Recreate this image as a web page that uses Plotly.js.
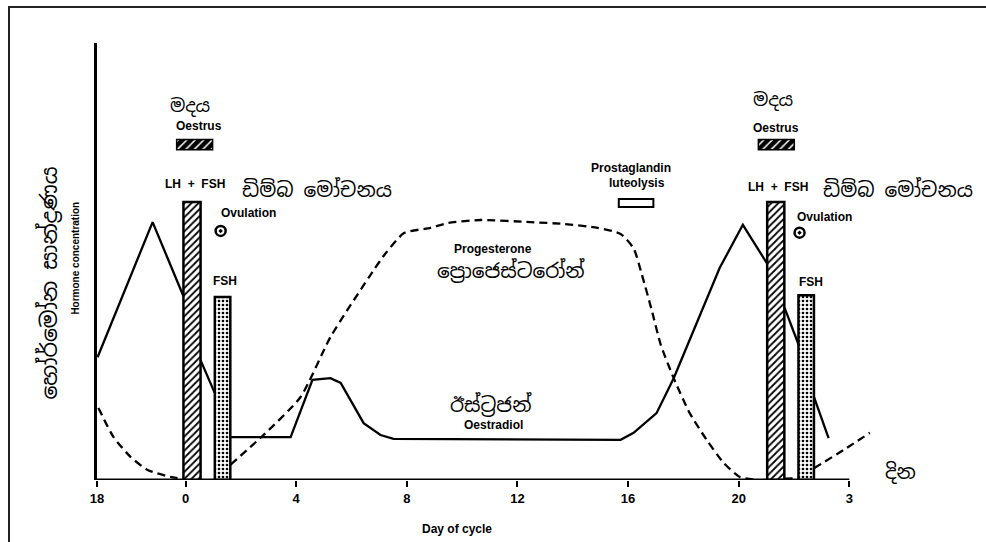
<!DOCTYPE html>
<html>
<head>
<meta charset="utf-8">
<script src="https://cdn.plot.ly/plotly-3.0.1.min.js"></script>
<style>
  html, body { margin:0; padding:0; background:#fff; }
  #frame { position:absolute; left:8px; top:6px; width:978px; height:536px;
           border-left:2px solid #222; border-top:2px solid #222; box-sizing:border-box; }
  #chart { position:absolute; left:0; top:0; width:986px; height:542px; }
</style>
</head>
<body>
<div id="frame"></div>
<div id="chart"></div>
<script>
// ---------- data ----------
const tickVals = [-3.2, 0, 4, 8, 12, 16, 20, 24];
const tickText = ['18', '0', '4', '8', '12', '16', '20', '3'];

// solid curve (oestradiol / LH surge); null = hidden behind the bars
const solidDays  = [-3.18, -1.19, -0.07, null, 0.54, 1.05, null, 1.63, 3.8, 4.59, 5.24, 5.61, 5.97, 6.44, 7.05, 7.52, 15.73, 16.2, 17.03, 17.65, 19.31, 20.15, 21.01, null, 21.66, 22.17, null, 22.72, 23.25];
const solidLevel = [28.1, 59.0, 42.0, null, 27.5, 20.0, null, 9.8, 9.8, 22.9, 23.3, 22.2, 18.3, 13.0, 10.3, 9.4, 9.2, 10.8, 15.3, 23.3, 48.5, 58.4, 49.7, null, 39.4, 30.9, null, 19.0, 9.6];

// dashed curve (progesterone)
const dashedDays  = [-3.15, -2.6, -1.99, -1.37, -0.54, -0.07, null, 1.63, 2.82, 4.16, 5.24, 6.8, 7.25, 7.9, 8.86, 9.48, 10.67, 12.48, 13.67, 14.9, 15.73, 16.2, 16.5, 16.85, 17.18, 17.65, 18.23, 18.84, 19.46, 20.04, 20.65, 21.0, null, 21.66, 22.17, null, 22.72, 23.8, 24.74];
const dashedLevel = [16.5, 9.8, 5.3, 2.3, 0.7, 0.2, null, 3.5, 10.3, 19.0, 32.7, 48.0, 52.0, 56.5, 57.7, 58.8, 59.5, 59.0, 58.6, 57.7, 56.3, 53.0, 47.0, 39.0, 31.0, 23.3, 15.3, 9.2, 3.9, 0.7, 0.0, 0.0, null, 0.3, 0.4, null, 2.7, 6.9, 10.8];

// LH + FSH surge bars and FSH bars
const lhFshDays  = [0.235, 21.34];
const lhFshLevel = [63.6, 63.6];
const fshDays    = [1.34, 22.44];
const fshLevel   = [41.9, 42.3];

// oestrus markers, prostaglandin marker, ovulation markers
const oestrusDays       = [0.33, 21.36];
const prostaglandinDays = [16.29];
const ovulationDays     = [1.27, 22.2];
const ovulationLevel    = [57.0, 56.6];

// ---------- traces ----------
const EN = 'Liberation Sans, Arial, sans-serif';
const SI = 'Noto Sans Sinhala, Noto Serif Sinhala, Iskoola Pota, Noto Sans, sans-serif';
const X_RANGE = [-3.2, 25];
const Y_RANGE = [0, 100];

const traces = [
  { type:'bar', x: lhFshDays, y: lhFshLevel, width: 0.62,
    marker:{ color:'white', line:{color:'black', width:2.5},
      pattern:{ shape:'/', fgcolor:'black', bgcolor:'white', size:5, solidity:0.35 } } },
  { type:'bar', x: fshDays, y: fshLevel, width: 0.56,
    marker:{ color:'white', line:{color:'black', width:2.5},
      pattern:{ shape:'.', fgcolor:'black', bgcolor:'white', size:4, solidity:0.35 } } },
  { type:'bar', x: oestrusDays, y: oestrusDays.map(() => 2.3), base: 75.6, width: 1.3,
    marker:{ color:'black', line:{color:'black', width:1.5},
      pattern:{ shape:'/', fgcolor:'white', bgcolor:'black', size:6, solidity:0.25 } } },
  { type:'bar', x: prostaglandinDays, y: [1.8], base: 62.5, width: 1.25,
    marker:{ color:'white', line:{color:'black', width:2} } },
  { type:'scatter', mode:'lines', x: solidDays, y: solidLevel, connectgaps:false,
    line:{ color:'black', width:2.3 } },
  { type:'scatter', mode:'lines', x: dashedDays, y: dashedLevel, connectgaps:false,
    line:{ color:'black', width:2.3, dash:'8px,5px', shape:'spline', smoothing:0.6 } },
  { type:'scatter', mode:'markers', x: ovulationDays, y: ovulationLevel, cliponaxis:false,
    marker:{ symbol:'circle-open-dot', size:10, color:'black', line:{color:'black', width:2.5} } }
];

// ---------- labels (placed in paper space so labels outside the axes still show) ----------
function px(x) { return (x - X_RANGE[0]) / (X_RANGE[1] - X_RANGE[0]); }
function py(y) { return (y - Y_RANGE[0]) / (Y_RANGE[1] - Y_RANGE[0]); }
function base(text, x, y, angle) {
  return { text, x:px(x), y:py(y), xref:'paper', yref:'paper', showarrow:false,
    xanchor:'center', yanchor:'middle', textangle: angle||0 };
}
function en(text, x, y, size, angle) {
  const a = base('<b>'+text+'</b>', x, y, angle);
  a.font = { family:EN, size:size||12, color:'black' };
  return a;
}
function si(text, x, y, size, angle) {
  const a = base(text, x, y, angle);
  a.font = { family:SI, size:size||20, color:'black' };
  return a;
}

const annotations = [
  si('මදය', 0.18, 85.6, 18),
  en('Oestrus', 0.47, 81.0, 12),
  en('LH&nbsp;&nbsp;+&nbsp;&nbsp;FSH', 0.36, 67.7, 12),
  si('ඩිම්බ මෝචනය', 4.74, 66.4, 20),
  en('Ovulation', 2.28, 61.0, 12),
  en('FSH', 1.41, 45.5, 12),
  en('Prostaglandin', 16.09, 71.4, 12),
  en('luteolysis', 16.31, 68.0, 12),
  en('Progesterone', 11.1, 52.9, 12),
  si('ප්‍රොජෙස්ටරෝන්', 11.75, 47.8, 20),
  si('ඊස්ට්‍රජන්', 11.03, 17.2, 20),
  en('Oestradiol', 11.14, 12.6, 12),
  si('මදය', 21.23, 87.0, 18),
  en('Oestrus', 21.34, 80.5, 12),
  en('LH&nbsp;&nbsp;+&nbsp;&nbsp;FSH', 21.41, 67.0, 12),
  si('ඩිම්බ මෝචනය', 25.75, 66.4, 20),
  en('Ovulation', 23.1, 60.2, 12),
  en('FSH', 22.6, 45.3, 12),
  si('දින', 25.86, 1.8, 20),
  en('Day of cycle', 9.8, -11.2, 12),
  si('හෝර්මෝන සාන්ද්‍රණය', -4.95, 45.1, 22, -90),
  en('Hormone concentration', -4.01, 50.8, 10, -90)
];

const layout = {
  width: 986, height: 542,
  margin: { l: 97, r: 109, t: 43, b: 62, pad: 0 },
  paper_bgcolor: 'rgba(0,0,0,0)', plot_bgcolor: 'rgba(0,0,0,0)',
  showlegend: false, barmode: 'overlay', hovermode: false,
  xaxis: { range: X_RANGE, showgrid:false, zeroline:false, showline:false,
    tickmode:'array', tickvals: tickVals, ticktext: tickText,
    ticks:'outside', ticklen:6, tickwidth:2, tickcolor:'black',
    tickfont:{ family:EN, size:13, color:'black', weight:'bold' } },
  yaxis: { range: Y_RANGE, showgrid:false, zeroline:false, showline:true,
    linecolor:'black', linewidth:3, showticklabels:false, ticks:'' },
  shapes: [
    { type:'line', xref:'x', yref:'y', x0: tickVals[0], x1: tickVals[tickVals.length-1],
      y0: 0, y1: 0, line:{ color:'black', width:3 } }
  ],
  annotations
};

Plotly.newPlot('chart', traces, layout, { staticPlot: true, displayModeBar: false });
</script>
</body>
</html>
